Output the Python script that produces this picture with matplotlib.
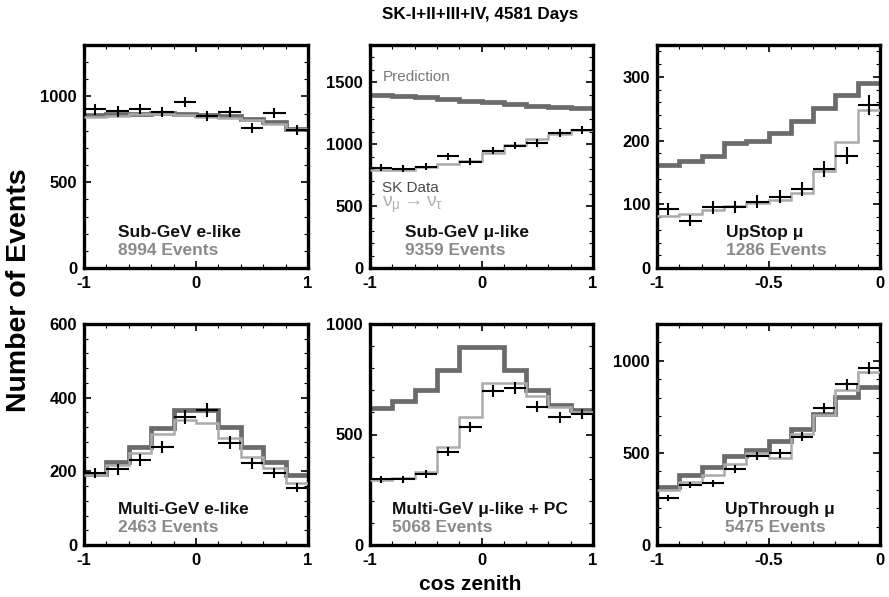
import numpy as np
import matplotlib
matplotlib.use("Agg")
import matplotlib.pyplot as plt
from matplotlib.ticker import AutoMinorLocator

plt.rcParams['font.family'] = ['Liberation Sans', 'DejaVu Sans']
plt.rcParams['axes.unicode_minus'] = False
plt.rcParams['mathtext.fontset'] = 'custom'
plt.rcParams['mathtext.rm'] = 'Liberation Sans'
plt.rcParams['mathtext.it'] = 'Liberation Sans'

title = "SK-I+II+III+IV, 4581 Days"

# ---- data ----
subgev_e_data = [924, 913, 928, 909, 967, 884, 909, 818, 905, 806]
subgev_e_pred = [890, 900, 900, 905, 900, 890, 885, 870, 850, 812]
subgev_e_osc  = [878, 888, 895, 897, 892, 882, 877, 862, 842, 808]

subgev_mu_data = [808, 800, 818, 901, 859, 947, 988, 1010, 1088, 1113]
subgev_mu_pred = [1395, 1388, 1378, 1368, 1352, 1340, 1325, 1310, 1297, 1288]
subgev_mu_osc  = [788, 790, 812, 842, 862, 932, 990, 1042, 1082, 1110]

upstop_data = [92, 74, 95, 96, 104, 112, 124, 155, 176, 256]
upstop_pred = [162, 168, 176, 196, 199, 212, 231, 251, 272, 291]
upstop_osc  = [81, 85, 91, 98, 102, 107, 118, 152, 198, 248]

multigev_e_data = [196, 205, 231, 265, 347, 367, 278, 222, 196, 156]
multigev_e_pred = [193, 226, 267, 317, 367, 367, 320, 265, 224, 190]
multigev_e_osc  = [190, 217, 250, 301, 339, 330, 290, 240, 208, 168]

multigev_mu_data = [297, 297, 320, 422, 535, 697, 709, 626, 578, 593]
multigev_mu_pred = [618, 653, 701, 792, 897, 897, 792, 701, 633, 611]
multigev_mu_osc  = [294, 302, 332, 445, 581, 732, 732, 674, 626, 603]

upthru_data = [253, 325, 334, 412, 482, 497, 587, 746, 872, 962]
upthru_pred = [316, 379, 424, 484, 515, 563, 632, 710, 803, 858]
upthru_osc  = [298, 343, 379, 439, 497, 470, 605, 704, 840, 939]

sample_names = ["Sub-GeV e-like", "Sub-GeV \u03bc-like", "UpStop \u03bc",
                "Multi-GeV e-like", "Multi-GeV \u03bc-like + PC", "UpThrough \u03bc"]
event_counts = ["8994 Events", "9359 Events", "1286 Events",
                "2463 Events", "5068 Events", "5475 Events"]

full_range = (-1, 1)
up_range = (-1, 0)
ylims = [1300, 1800, 350, 600, 1000, 1200]
yticks = [[0, 500, 1000], [0, 500, 1000, 1500], [0, 100, 200, 300],
          [0, 200, 400, 600], [0, 500, 1000], [0, 500, 1000]]
xticks_full = [-1, 0, 1]
xticks_up = [-1, -0.5, 0]

panels = [
    (subgev_e_data, subgev_e_pred, subgev_e_osc, full_range),
    (subgev_mu_data, subgev_mu_pred, subgev_mu_osc, full_range),
    (upstop_data, upstop_pred, upstop_osc, up_range),
    (multigev_e_data, multigev_e_pred, multigev_e_osc, full_range),
    (multigev_mu_data, multigev_mu_pred, multigev_mu_osc, full_range),
    (upthru_data, upthru_pred, upthru_osc, up_range),
]

# ---- layout ----
W, H = 889, 597
fig = plt.figure(figsize=(W / 100, H / 100), dpi=100)
col_px = [(84, 224), (370, 223), (657, 223)]
row_px = [(45, 268), (324, 545)]
label_x = [0.152, 0.157, 0.31, 0.152, 0.10, 0.305]

PRED_C = '#6b6b6b'
OSC_C = '#ababab'

for i, (data, pred, osc, rng) in enumerate(panels):
    r, c = divmod(i, 3)
    left, w = col_px[c]
    top, bot = row_px[r]
    ax = fig.add_axes([left / W, 1 - bot / H, w / W, (bot - top) / H])
    nb = len(data)
    edges = np.linspace(rng[0], rng[1], nb + 1)
    centers = 0.5 * (edges[:-1] + edges[1:])
    half = 0.5 * (edges[1] - edges[0])
    ax.stairs(pred, edges, color=PRED_C, lw=3.4, baseline=None, zorder=2)
    ax.stairs(osc, edges, color=OSC_C, lw=1.8, baseline=None, zorder=3)
    ax.errorbar(centers, data, xerr=half, yerr=np.sqrt(np.array(data, float)),
                fmt='none', ecolor='black', elinewidth=1.5, capsize=0, zorder=4)
    ax.set_xlim(*rng)
    ax.set_ylim(0, ylims[i])
    ax.set_yticks(yticks[i])
    if rng == full_range:
        ax.set_xticks(xticks_full)
        ax.set_xticklabels(['-1', '0', '1'])
    else:
        ax.set_xticks(xticks_up)
        ax.set_xticklabels(['-1', '-0.5', '0'])
    ax.xaxis.set_minor_locator(AutoMinorLocator(5))
    ax.yaxis.set_minor_locator(AutoMinorLocator(5))
    ax.tick_params(which='both', direction='in', top=True, right=True)
    ax.tick_params(which='major', length=5, width=1.2, labelsize=12)
    ax.tick_params(axis='x', which='major', pad=6)
    ax.tick_params(axis='y', which='major', pad=5)
    ax.tick_params(which='minor', length=3, width=0.8)
    for lab in ax.get_xticklabels() + ax.get_yticklabels():
        lab.set_fontweight('bold')
    for sp in ax.spines.values():
        sp.set_linewidth(2.4)
    ax.text(label_x[i], 0.16, sample_names[i], transform=ax.transAxes,
            fontsize=12.5, fontweight='bold', color='#111111', va='center')
    ax.text(label_x[i], 0.08, event_counts[i], transform=ax.transAxes,
            fontsize=12.5, fontweight='bold', color='#8a8a8a', va='center')
    if i == 1:
        ax.text(0.055, 0.857, "Prediction", transform=ax.transAxes,
                fontsize=11, color='#7a7a7a', va='center')
        ax.text(0.055, 0.36, "SK Data", transform=ax.transAxes,
                fontsize=11, color='#4a4a4a', va='center')
        ax.text(0.055, 0.285, r'$\nu_\mu \rightarrow \nu_\tau$', transform=ax.transAxes,
                fontsize=14, color='#b0b0b0', va='center')

fig.text(480 / W, 1 - 14 / H, title, ha='center', va='center',
         fontsize=12.3, fontweight='bold')
fig.text(19 / W, 1 - 290 / H, "Number of Events", rotation=90, ha='center',
         va='center', fontsize=20.5, fontweight='bold')
fig.text(470 / W, 1 - 585 / H, "cos zenith", ha='center', va='center',
         fontsize=15, fontweight='bold')

fig.savefig("out.png", dpi=100)
